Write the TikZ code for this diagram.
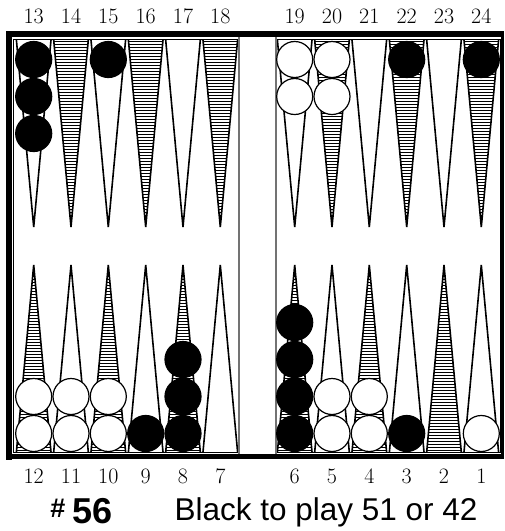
\documentclass[tikz,border=0pt]{standalone}
\usepackage{fontspec}
\newfontfamily\capfont{Liberation Sans}
\begin{document}
\begin{tikzpicture}[x=1pt,y=-1pt,
  ptline/.style={line width=1.6pt, line join=miter},
  hatchline/.style={line width=0.9pt},
  barline/.style={line width=1.3pt, draw=black!55},
  thinframe/.style={line width=0.9pt},
  wchk/.style={circle, draw=black, fill=white, line width=1.2pt, minimum size=36pt, inner sep=0pt},
  bchk/.style={circle, draw=black, fill=black, line width=1.2pt, minimum size=36pt, inner sep=0pt},
  numlab/.style={font=\fontsize{22}{22}\selectfont, inner sep=0pt},
]
\useasboundingbox (0,0) rectangle (505,531);
% quadrant thin frames
\draw[thinframe] (13.8,39) rectangle (239,452.5);
\draw[thinframe] (276,39) rectangle (500,452.5);
% top points, plain
\foreach \x in {33.7,108.3,183,294.7,369.3,444} {
  \draw[ptline] (\x-17.3,40) -- (\x,227) -- (\x+17.3,40);
}
% top points, hatched
\foreach \x in {71,145.7,220.3,332,406.7,481.3} {
  \begin{scope}
    \clip (\x-17.3,40) -- (\x,227) -- (\x+17.3,40) -- cycle;
    \foreach \y in {41.5,44.5,...,227} \draw[hatchline] (\x-18,\y) -- (\x+18,\y);
  \end{scope}
  \draw[ptline] (\x-17.3,40) -- (\x,227) -- (\x+17.3,40);
}
% bottom points, plain
\foreach \x in {71,145.7,220.3,332,406.7,481.3} {
  \draw[ptline] (\x-17.3,452) -- (\x,265) -- (\x+17.3,452);
}
% bottom points, hatched
\foreach \x in {33.7,108.3,183,294.7,369.3,444} {
  \begin{scope}
    \clip (\x-17.3,452) -- (\x,265) -- (\x+17.3,452) -- cycle;
    \foreach \y in {450.5,447.5,...,265} \draw[hatchline] (\x-18,\y) -- (\x+18,\y);
  \end{scope}
  \draw[ptline] (\x-17.3,452) -- (\x,265) -- (\x+17.3,452);
}
% bar
\draw[barline] (239,37) -- (239,454);
\draw[barline] (276,37) -- (276,454);
% outer frame
\fill[black] (6,31) rectangle (504,37);
\fill[black] (6,31) rectangle (12,460);
\fill[black] (501,31) rectangle (504,458);
\fill[black] (6,454) rectangle (504,459);
% checkers top
\node[bchk] (c13a) at (33.7,59.5) {};
\node[bchk] (c13b) at (33.7,96.5) {};
\node[bchk] (c13c) at (33.7,133.5) {};
\node[bchk] (c15a) at (108.3,59.5) {};
\node[wchk] (c19a) at (294.7,59.5) {};
\node[wchk] (c19b) at (294.7,96.5) {};
\node[wchk] (c20a) at (332,59.5) {};
\node[wchk] (c20b) at (332,96.5) {};
\node[bchk] (c22a) at (406.7,59.5) {};
\node[bchk] (c24a) at (481.3,59.5) {};
% checkers bottom
\node[wchk] (c12a) at (33.7,433.5) {};
\node[wchk] (c12b) at (33.7,396.5) {};
\node[wchk] (c11a) at (71,433.5) {};
\node[wchk] (c11b) at (71,396.5) {};
\node[wchk] (c10a) at (108.3,433.5) {};
\node[wchk] (c10b) at (108.3,396.5) {};
\node[bchk] (c9a) at (145.7,433.5) {};
\node[bchk] (c8a) at (183,433.5) {};
\node[bchk] (c8b) at (183,396.5) {};
\node[bchk] (c8c) at (183,359.5) {};
\node[bchk] (c6a) at (294.7,433.5) {};
\node[bchk] (c6b) at (294.7,396.5) {};
\node[bchk] (c6c) at (294.7,359.5) {};
\node[bchk] (c6d) at (294.7,322.5) {};
\node[wchk] (c5a) at (332,433.5) {};
\node[wchk] (c5b) at (332,396.5) {};
\node[wchk] (c4a) at (369.3,433.5) {};
\node[wchk] (c4b) at (369.3,396.5) {};
\node[bchk] (c3a) at (406.7,433.5) {};
\node[wchk] (c1a) at (481.3,433.5) {};
% labels top
\foreach \n/\x in {13/33.7,14/71,15/108.3,16/145.7,17/183,18/220.3,19/294.7,20/332,21/369.3,22/406.7,23/444,24/481.3}
  \node[numlab] (t\n) at (\x,16) {\n};
% labels bottom
\foreach \n/\x in {12/33.7,11/71,10/108.3,9/145.7,8/183,7/220.3,6/294.7,5/332,4/369.3,3/406.7,2/444,1/481.3}
  \node[numlab] (b\n) at (\x,476) {\n};
% caption
\node[inner sep=0pt, anchor=base, font=\capfont\bfseries\fontsize{27}{27}\selectfont] (hash) at (58,517) {\#};
\node[inner sep=0pt, anchor=base, font=\capfont\bfseries\fontsize{36}{36}\selectfont] (num) at (93,523) {56};
\node[inner sep=0pt, anchor=base, font=\capfont\fontsize{31.5}{31.5}\selectfont] (cap) at (326,520) {Black to play 51 or 42};
\end{tikzpicture}
\end{document}
